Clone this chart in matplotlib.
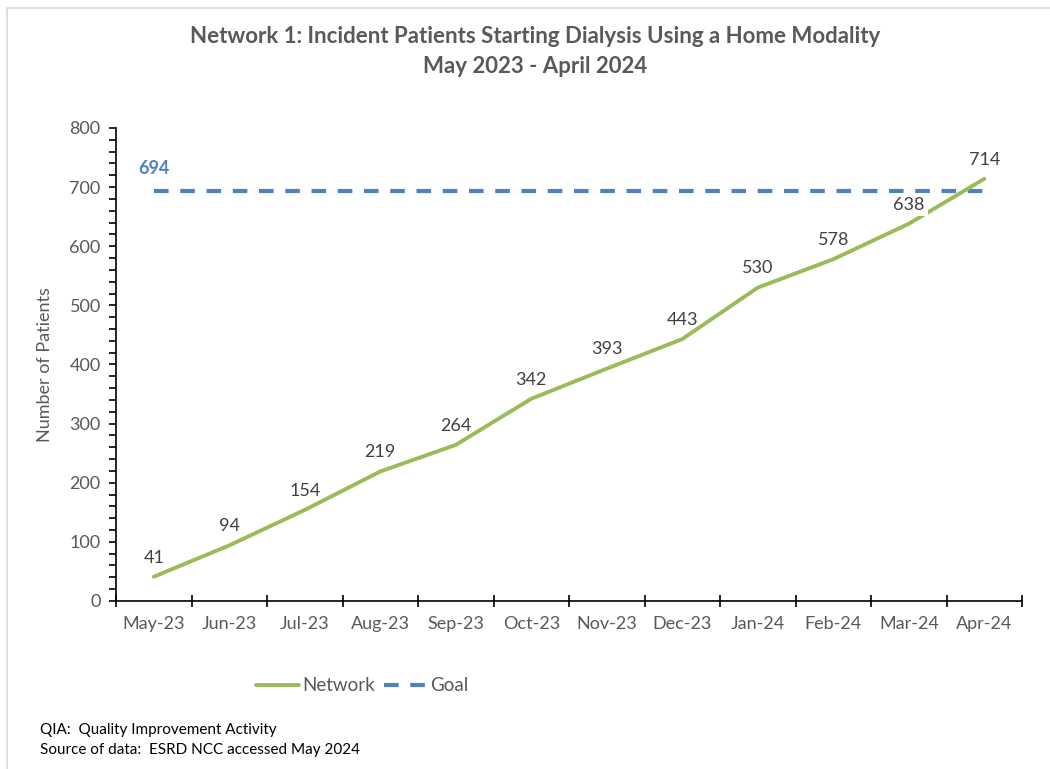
# Import the necessary libraries
import matplotlib.pyplot as plt
from matplotlib.patches import Rectangle
from matplotlib.ticker import MultipleLocator

plt.rcParams['font.family'] = ['Lato', 'DejaVu Sans']

# Data
months = ['May-23', 'Jun-23', 'Jul-23', 'Aug-23', 'Sep-23', 'Oct-23',
          'Nov-23', 'Dec-23', 'Jan-24', 'Feb-24', 'Mar-24', 'Apr-24']
network = [41, 94, 154, 219, 264, 342, 393, 443, 530, 578, 638, 714]
goal_value = 694
goal = [goal_value] * len(months)

green = '#9BBB59'
blue = '#4F81BD'
grey = '#595959'

fig = plt.figure(figsize=(10.5, 7.69), dpi=100)
ax = fig.add_axes([0.1105, 0.2185, 0.8629, 0.6151])

x = list(range(len(months)))

# Lines
ax.plot(x, goal, color=blue, linewidth=3, dashes=(3.5, 2.8), label='Goal', zorder=2)
ax.plot(x, network, color=green, linewidth=2.8, solid_capstyle='round', label='Network', zorder=3)

# Data labels
for xi, v in zip(x, network):
    ax.annotate(str(v), (xi, v), xytext=(0, 8), textcoords='offset points',
                ha='center', va='bottom', fontsize=13, color='#404040', zorder=5,
                bbox=dict(boxstyle='square,pad=0.2', fc='white', ec='none') if v == 638 else None)
ax.annotate(str(goal_value), (0, goal_value), xytext=(0, 10), textcoords='offset points',
            ha='center', va='bottom', fontsize=13, fontweight='bold', color=blue)

# Axes
ax.set_xlim(-0.5, len(months) - 0.5)
ax.set_ylim(0, 800)
ax.yaxis.set_major_locator(MultipleLocator(100))
ax.yaxis.set_minor_locator(MultipleLocator(20))
ax.set_xticks([i - 0.5 for i in range(len(months) + 1)])
ax.set_xticklabels([])
ax.set_xticks(x, minor=True)
ax.set_xticklabels(months, minor=True)
ax.tick_params(axis='x', which='major', direction='inout', length=8, width=1.2, color='black')
ax.tick_params(axis='x', which='minor', length=0, labelsize=13, labelcolor=grey, pad=11)
ax.tick_params(axis='y', which='both', direction='out', length=5, width=1.2, color='black',
               labelsize=13, labelcolor=grey, pad=6)
for s in ['top', 'right']:
    ax.spines[s].set_visible(False)
for s in ['left', 'bottom']:
    ax.spines[s].set_linewidth(1.2)
    ax.spines[s].set_color('black')
ax.set_ylabel('Number of Patients', fontsize=13, color=grey, labelpad=12)

# Title
fig.text(0.51, 0.952, 'Network 1: Incident Patients Starting Dialysis Using a Home Modality',
         ha='center', va='center', fontsize=16, fontweight='bold', color=grey)
fig.text(0.51, 0.913, 'May 2023 - April 2024',
         ha='center', va='center', fontsize=16, fontweight='bold', color=grey)

# Legend
handles, labels = ax.get_legend_handles_labels()
fig.legend(handles[::-1], labels[::-1], loc='center', bbox_to_anchor=(0.345, 0.108), ncol=2,
           frameon=False, fontsize=13.5, handlelength=2.3, handletextpad=0.15,
           columnspacing=0.5, labelcolor=grey)

# Footnotes
fig.text(0.038, 0.051, 'QIA:  Quality Improvement Activity', fontsize=11, va='center')
fig.text(0.038, 0.025, 'Source of data:  ESRD NCC accessed May 2024', fontsize=11, va='center')

# Chart border
fig.patches.append(Rectangle((7 / 1050, -0.1), 1.2, 1.1 - 8 / 769, transform=fig.transFigure,
                             fill=False, edgecolor='#d9d9d9', linewidth=1.2))

plt.savefig('out.png', dpi=100)
